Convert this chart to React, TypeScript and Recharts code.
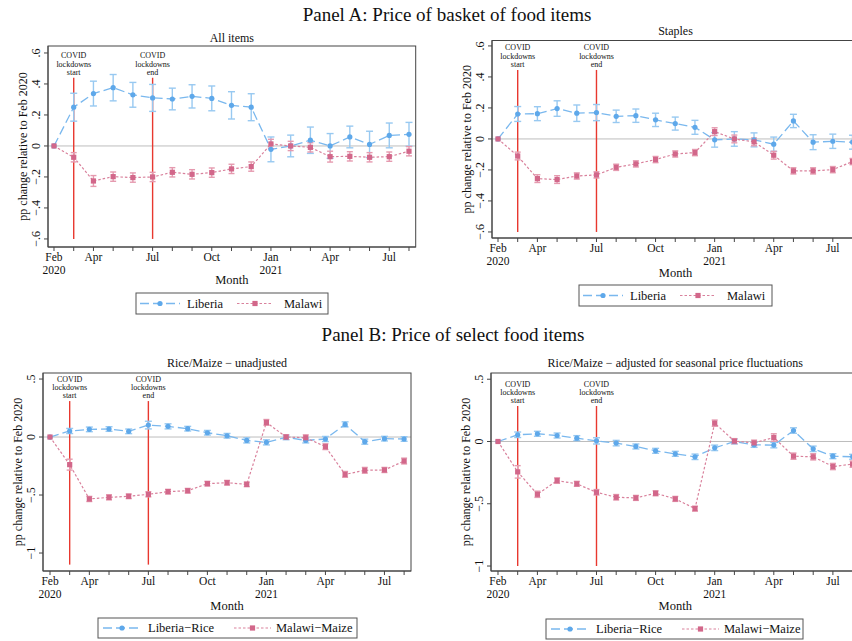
import React from 'react';
import { ComposedChart, Line, XAxis, YAxis, ErrorBar, ReferenceLine } from 'recharts';

// Months since Feb 2020 (0 = Feb 2020 ... 18 = Aug 2021)
const months = [0, 1, 2, 3, 4, 5, 6, 7, 8, 9, 10, 11, 12, 13, 14, 15, 16, 17, 18];
const monthTickLabels: Record<number, string[]> = {
  0: ['Feb', '2020'], 2: ['Apr'], 5: ['Jul'], 8: ['Oct'], 11: ['Jan', '2021'], 14: ['Apr'], 17: ['Jul'],
};
const lockdownStart = 1;
const lockdownEnd = 5;

// Panel A – All items
const allLiberia = [0, 0.25, 0.338, 0.376, 0.33, 0.31, 0.303, 0.32, 0.307, 0.262, 0.25, -0.022, 0, 0.037, 0, 0.058, 0.01, 0.068, 0.075];
const allLiberiaErr = [0, 0.09, 0.08, 0.085, 0.08, 0.087, 0.07, 0.075, 0.08, 0.088, 0.087, 0.08, 0.07, 0.085, 0.08, 0.07, 0.085, 0.08, 0.077];
const allMalawi = [0, -0.073, -0.226, -0.198, -0.204, -0.2, -0.17, -0.183, -0.172, -0.148, -0.133, 0.013, 0, -0.009, -0.069, -0.067, -0.073, -0.069, -0.034];
const allMalawiErr = [0, 0.03, 0.035, 0.03, 0.03, 0.03, 0.03, 0.03, 0.03, 0.03, 0.03, 0.03, 0.03, 0.03, 0.035, 0.03, 0.03, 0.03, 0.03];

// Panel A – Staples
const stapLiberia = [0, 0.161, 0.163, 0.196, 0.166, 0.17, 0.146, 0.15, 0.123, 0.099, 0.075, -0.006, 0, -0.006, -0.034, 0.116, -0.021, -0.015, -0.021];
const stapLiberiaErr = [0, 0.048, 0.045, 0.05, 0.053, 0.052, 0.04, 0.043, 0.043, 0.042, 0.045, 0.047, 0.047, 0.045, 0.046, 0.043, 0.048, 0.046, 0.045];
const stapMalawi = [0, -0.11, -0.256, -0.262, -0.239, -0.232, -0.183, -0.161, -0.133, -0.097, -0.088, 0.047, 0, -0.019, -0.105, -0.206, -0.206, -0.198, -0.146];
const stapMalawiErr = [0, 0.025, 0.025, 0.025, 0.02, 0.02, 0.02, 0.02, 0.02, 0.02, 0.02, 0.025, 0.025, 0.025, 0.025, 0.02, 0.02, 0.02, 0.02];

// Panel B – Rice/Maize unadjusted
const unadjRice = [0, 0.052, 0.066, 0.069, 0.049, 0.103, 0.092, 0.072, 0.037, 0.011, -0.029, -0.046, -0.003, -0.029, -0.017, 0.109, -0.04, -0.014, -0.017];
const unadjRiceErr = [0, 0.022, 0.02, 0.02, 0.02, 0.033, 0.022, 0.02, 0.02, 0.02, 0.022, 0.022, 0.02, 0.022, 0.022, 0.022, 0.022, 0.02, 0.02];
const unadjMaize = [0, -0.238, -0.534, -0.52, -0.511, -0.494, -0.471, -0.463, -0.402, -0.394, -0.408, 0.126, 0, -0.006, -0.083, -0.322, -0.287, -0.284, -0.207];
const unadjMaizeErr = [0, 0.047, 0.022, 0.022, 0.02, 0.022, 0.02, 0.02, 0.02, 0.02, 0.02, 0.025, 0.02, 0.025, 0.025, 0.025, 0.025, 0.022, 0.025];

// Panel B – Rice/Maize adjusted for seasonal price fluctuations
const adjRice = [0, 0.054, 0.062, 0.048, 0.027, 0.005, -0.013, -0.04, -0.075, -0.099, -0.123, -0.051, 0, -0.027, -0.029, 0.088, -0.059, -0.118, -0.123];
const adjRiceErr = [0, 0.022, 0.02, 0.02, 0.02, 0.025, 0.022, 0.02, 0.02, 0.02, 0.022, 0.022, 0.02, 0.02, 0.022, 0.022, 0.022, 0.02, 0.02];
const adjMaize = [0, -0.244, -0.424, -0.314, -0.34, -0.408, -0.448, -0.453, -0.416, -0.461, -0.539, 0.147, 0.003, -0.011, 0.032, -0.118, -0.123, -0.201, -0.182];
const adjMaizeErr = [0, 0.05, 0.025, 0.022, 0.02, 0.022, 0.022, 0.02, 0.02, 0.02, 0.02, 0.025, 0.02, 0.022, 0.03, 0.025, 0.025, 0.025, 0.025];

const yTicksA = [-0.6, -0.4, -0.2, 0, 0.2, 0.4, 0.6];
const yTicksB = [-1, -0.5, 0, 0.5];

const FONT = '"Liberation Serif", "Times New Roman", serif';
const BLUE_LINE = '#7ab8ee';
const BLUE_DOT = '#5ea8ea';
const BLUE_ERR = '#98c9f1';
const PINK_LINE = '#d9819c';
const PINK_DOT = '#d2678a';
const PINK_ERR = '#e59aaf';
const RED = '#e8382f';
const FRAME = '#444';

const CW = 880;
const CH = 641;

const fmtY = (v: number) => {
  if (v === 0) return '0';
  const s = Math.abs(v).toString().replace(/^0/, '');
  return (v < 0 ? '\u2212' : '') + s;
};

const XTick = (props: any) => {
  const { x, y, payload } = props;
  const lab = monthTickLabels[payload.value];
  if (!lab) return <g />;
  return (
    <g>
      {lab.map((s, i) => (
        <text key={i} x={x} y={y + 8 + i * 13} textAnchor="middle" fontFamily={FONT} fontSize={11.5} fill="#111">{s}</text>
      ))}
    </g>
  );
};

const YTick = (props: any) => {
  const { x, y, payload } = props;
  return (
    <text x={x} y={y} transform={`rotate(-90 ${x} ${y})`} textAnchor="middle" fontFamily={FONT} fontSize={12} fill="#111">
      {fmtY(payload.value)}
    </text>
  );
};

const makeCovidLabel = (lines: string[]) => (props: any) => {
  const vb = props.viewBox || {};
  const cx = vb.x;
  const top = vb.y;
  const offs = [-19.5, -11, -3];
  return (
    <g>
      {lines.map((s, i) => (
        <text key={i} x={cx} y={top + offs[i]} textAnchor="middle" fontFamily={FONT} fontSize={8} fill="#111">{s}</text>
      ))}
    </g>
  );
};

const SquareDot = (props: any) => {
  const { cx, cy, index } = props;
  if (cx == null || cy == null) return <g key={`sq-${index}`} />;
  return <rect key={`sq-${index}`} x={cx - 2.6} y={cy - 2.6} width={5.2} height={5.2} fill={PINK_DOT} />;
};

type PanelCfg = {
  fl: number; ft: number; fr: number; fb: number;
  xDomain: [number, number];
  yDomain: [number, number];
  yTicks: number[];
  redLo: number; redHi: number;
  a: number[]; ae: number[]; b: number[]; be: number[];
};

const Panel = ({ cfg }: { cfg: PanelCfg }) => {
  const rows = months.map((m, i) => ({ m, a: cfg.a[i], ae: cfg.ae[i], b: cfg.b[i], be: cfg.be[i] }));
  const yw = 30;
  const xh = 30;
  return (
    <div style={{ position: 'absolute', left: 0, top: 0 }}>
      <ComposedChart
        width={CW}
        height={CH}
        data={rows}
        margin={{ left: cfg.fl - yw, top: cfg.ft, right: CW - cfg.fr, bottom: CH - cfg.fb - xh }}
      >
        <XAxis
          dataKey="m"
          type="number"
          domain={cfg.xDomain}
          ticks={months}
          interval={0}
          allowDataOverflow
          tick={<XTick />}
          tickSize={4}
          tickMargin={2}
          height={xh}
          stroke={FRAME}
        />
        <YAxis
          type="number"
          domain={cfg.yDomain}
          ticks={cfg.yTicks}
          interval={0}
          allowDataOverflow
          tick={<YTick />}
          tickSize={4}
          tickMargin={4}
          width={yw}
          stroke={FRAME}
        />
        <ReferenceLine y={0} stroke="#bdbdbd" strokeWidth={1} />
        <ReferenceLine
          segment={[{ x: lockdownStart, y: cfg.redLo }, { x: lockdownStart, y: cfg.redHi }]}
          stroke={RED}
          strokeWidth={1.4}
          label={makeCovidLabel(['COVID', 'lockdowns', 'start'])}
        />
        <ReferenceLine
          segment={[{ x: lockdownEnd, y: cfg.redLo }, { x: lockdownEnd, y: cfg.redHi }]}
          stroke={RED}
          strokeWidth={1.4}
          label={makeCovidLabel(['COVID', 'lockdowns', 'end'])}
        />
        <Line
          dataKey="a"
          stroke={BLUE_LINE}
          strokeWidth={1.3}
          strokeDasharray="9 4"
          dot={{ r: 2.6, fill: BLUE_DOT, stroke: BLUE_DOT, strokeWidth: 0 }}
          isAnimationActive={false}
        >
          <ErrorBar dataKey="ae" width={3.5} stroke={BLUE_ERR} strokeWidth={1.4} direction="y" />
        </Line>
        <Line
          dataKey="b"
          stroke={PINK_LINE}
          strokeWidth={1.2}
          strokeDasharray="2.5 2"
          dot={<SquareDot />}
          isAnimationActive={false}
        >
          <ErrorBar dataKey="be" width={3} stroke={PINK_ERR} strokeWidth={1.4} direction="y" />
        </Line>
      </ComposedChart>
    </div>
  );
};

const panels: PanelCfg[] = [
  {
    fl: 48, ft: 46, fr: 415.7, fb: 247,
    xDomain: [-0.304, 18.34], yDomain: [-0.652, 0.645], yTicks: yTicksA,
    redLo: -0.6, redHi: 0.44,
    a: allLiberia, ae: allLiberiaErr, b: allMalawi, be: allMalawiErr,
  },
  {
    fl: 492, ft: 40.5, fr: 859, fb: 238,
    xDomain: [-0.305, 18.33], yDomain: [-0.639, 0.635], yTicks: yTicksA,
    redLo: -0.6, redHi: 0.445,
    a: stapLiberia, ae: stapLiberiaErr, b: stapMalawi, be: stapMalawiErr,
  },
  {
    fl: 43, ft: 373, fr: 411, fb: 571,
    xDomain: [-0.356, 18.35], yDomain: [-1.155, 0.552], yTicks: yTicksB,
    redLo: -1.1, redHi: 0.31,
    a: unadjRice, ae: unadjRiceErr, b: unadjMaize, be: unadjMaizeErr,
  },
  {
    fl: 491, ft: 373, fr: 859.5, fb: 571,
    xDomain: [-0.355, 18.35], yDomain: [-1.04, 0.55], yTicks: yTicksB,
    redLo: -1.0, redHi: 0.285,
    a: adjRice, ae: adjRiceErr, b: adjMaize, be: adjMaizeErr,
  },
];

const subTitles = [
  'All items',
  'Staples',
  'Rice/Maize \u2212 unadjusted',
  'Rice/Maize \u2212 adjusted for seasonal price fluctuations',
];
const legendNamesA = ['Liberia', 'Malawi'];
const legendNamesB = ['Liberia\u2212Rice', 'Malawi\u2212Maize'];

type LegendBox = { x: number; y: number; w: number; h: number; names: string[]; wide: boolean };

const LegendSvg = ({ lb }: { lb: LegendBox }) => {
  const cy = lb.y + lb.h / 2;
  const s1 = lb.wide ? [5, 43] : [4, 44];
  const t1 = lb.wide ? 50 : 51;
  const s2 = lb.wide ? [136, 173] : [101, 137];
  const t2 = lb.wide ? 178 : 148;
  const m1 = lb.x + (s1[0] + s1[1]) / 2;
  const m2 = lb.x + (s2[0] + s2[1]) / 2;
  return (
    <g>
      <rect x={lb.x} y={lb.y} width={lb.w} height={lb.h} fill="#fff" stroke="#555" strokeWidth={1} />
      <line x1={lb.x + s1[0]} x2={lb.x + s1[1]} y1={cy} y2={cy} stroke={BLUE_LINE} strokeWidth={1.3} strokeDasharray="9 4" />
      <circle cx={m1} cy={cy} r={2.6} fill={BLUE_DOT} />
      <text x={lb.x + t1} y={cy + 4} fontFamily={FONT} fontSize={12.5} fill="#111">{lb.names[0]}</text>
      <line x1={lb.x + s2[0]} x2={lb.x + s2[1]} y1={cy} y2={cy} stroke={PINK_LINE} strokeWidth={1.2} strokeDasharray="2.5 2" />
      <rect x={m2 - 2.6} y={cy - 2.6} width={5.2} height={5.2} fill={PINK_DOT} />
      <text x={lb.x + t2} y={cy + 4} fontFamily={FONT} fontSize={12.5} fill="#111">{lb.names[1]}</text>
    </g>
  );
};

const Overlay = () => {
  const legends: LegendBox[] = [
    { x: 136, y: 293, w: 192, h: 21, names: legendNamesA, wide: false },
    { x: 579, y: 285, w: 193, h: 21, names: legendNamesA, wide: false },
    { x: 98, y: 618, w: 259, h: 20, names: legendNamesB, wide: true },
    { x: 546, y: 619, w: 257, h: 20, names: legendNamesB, wide: true },
  ];
  const monthY = [283.5, 276.5, 610, 609.5];
  const titleY = [41.5, 35, 367, 367];
  return (
    <svg width={852} height={641} style={{ position: 'absolute', left: 0, top: 0, pointerEvents: 'none' }}>
      <text x={447} y={21} textAnchor="middle" fontFamily={FONT} fontSize={19} fill="#111">Panel A: Price of basket of food items</text>
      <text x={453} y={341} textAnchor="middle" fontFamily={FONT} fontSize={19} fill="#111">Panel B: Price of select food items</text>
      {panels.map((p, i) => {
        const cx = (p.fl + p.fr) / 2;
        const cyMid = (p.ft + p.fb) / 2;
        const yx = p.fl - 21.5;
        return (
          <g key={i}>
            <rect x={p.fl} y={p.ft} width={p.fr - p.fl} height={p.fb - p.ft} fill="none" stroke={FRAME} strokeWidth={1} />
            <text x={cx} y={titleY[i]} textAnchor="middle" fontFamily={FONT} fontSize={12} fill="#111">{subTitles[i]}</text>
            <text x={cx} y={monthY[i]} textAnchor="middle" fontFamily={FONT} fontSize={12.5} fill="#111">Month</text>
            <text x={yx} y={cyMid} transform={`rotate(-90 ${yx} ${cyMid})`} textAnchor="middle" fontFamily={FONT} fontSize={12} fill="#111">pp change relative to Feb 2020</text>
          </g>
        );
      })}
      {legends.map((lb, i) => <LegendSvg key={i} lb={lb} />)}
    </svg>
  );
};

export default function App() {
  return (
    <div style={{ position: 'fixed', left: 0, top: 0, width: 852, height: 641, overflow: 'hidden', background: '#fff' }}>
      {panels.map((p, i) => <Panel key={i} cfg={p} />)}
      <Overlay />
    </div>
  );
}
